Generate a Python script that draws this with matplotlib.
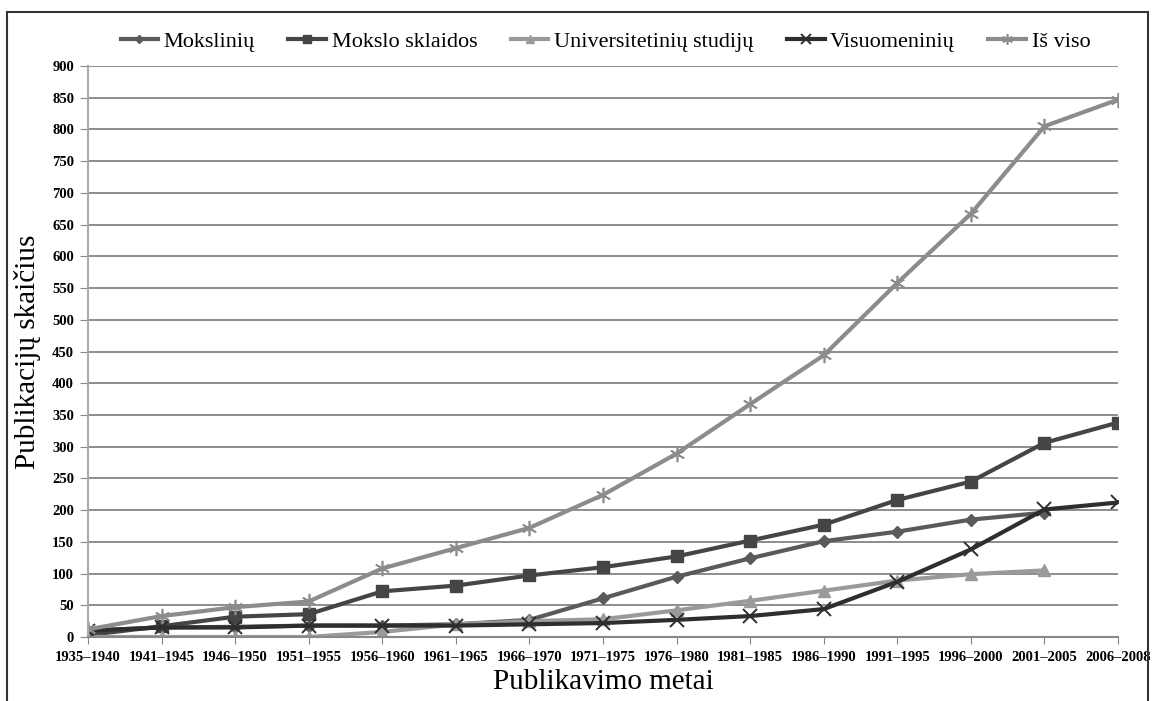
import matplotlib
matplotlib.use("Agg")
import matplotlib.pyplot as plt
from matplotlib.patches import Rectangle
import numpy as np

categories = ["1935–1940", "1941–1945", "1946–1950", "1951–1955", "1956–1960",
              "1961–1965", "1966–1970", "1971–1975", "1976–1980", "1981–1985",
              "1986–1990", "1991–1995", "1996–2000", "2001–2005", "2006–2008"]

mokslinii = [10, 15, 16, 18, 18, 20, 27, 61, 95, 124, 151, 166, 185, 196, None]
mokslo_sklaidos = [3, 17, 32, 36, 72, 81, 97, 110, 127, 152, 177, 216, 245, 306, 338]
universitetiniu = [0, 0, 0, 0, 8, 20, 25, 28, 42, 57, 73, 89, 99, 105, None]
visuomeniniu = [10, 15, 15, 18, 18, 18, 20, 22, 27, 33, 44, 87, 138, 201, 212]
is_viso = [12, 33, 47, 56, 108, 140, 172, 224, 289, 367, 444, 558, 667, 805, 847]

yticks = list(range(0, 901, 50))

def arr(v):
    return np.array([np.nan if x is None else x for x in v], dtype=float)

fig = plt.figure(figsize=(11.53, 7.01), dpi=100)
ax = fig.add_axes([88/1153, 1-637/701, (1118-88)/1153, (637-66)/701])

x = np.arange(len(categories))
serif = ["Liberation Serif", "DejaVu Serif"]

series = [
    ("Mokslinių", mokslinii, "#5a5a5a", "D", 6, dict()),
    ("Mokslo sklaidos", mokslo_sklaidos, "#454545", "s", 9, dict()),
    ("Universitetinių studijų", universitetiniu, "#9a9a9a", "^", 9, dict()),
    ("Visuomeninių", visuomeniniu, "#2e2e2e", "x", 10, dict(markeredgewidth=1.4)),
    ("Iš viso", is_viso, "#8c8c8c", (6, 2, 0), 11, dict(markeredgewidth=1.2)),
]
for name, vals, col, mk, ms, kw in series:
    kws = dict(color=col, lw=3, marker=mk, markersize=ms, label=name)
    if mk in ("x",) or isinstance(mk, tuple):
        kws.update(markeredgecolor=col, markerfacecolor="none")
    kws.update(kw)
    ax.plot(x, arr(vals), **kws)

ax.set_xlim(0, len(categories) - 1)
ax.set_ylim(0, 900)
ax.set_yticks(yticks)
ax.set_xticks(x)
ax.set_xticklabels(categories, fontfamily=serif, fontweight="bold", fontsize=10.5)
for t in ax.get_yticklabels():
    t.set_fontfamily(serif); t.set_fontweight("bold"); t.set_fontsize(10.5)
ax.grid(axis="y", color="#7a7a7a", lw=1.2)
ax.set_axisbelow(True)
for s in ["top", "right"]:
    ax.spines[s].set_visible(False)
ax.spines["left"].set_color("#aaaaaa")
ax.spines["bottom"].set_color("#888888")
ax.spines["left"].set_linewidth(1.5)
ax.spines["bottom"].set_linewidth(1.5)
ax.tick_params(axis="y", length=6, color="#888888", pad=4)
ax.tick_params(axis="x", length=5, color="#888888", pad=5)

ax.set_ylabel("Publikacijų skaičius", fontfamily=serif, fontsize=21, labelpad=8)
ax.set_xlabel("Publikavimo metai", fontfamily=serif, fontsize=21, labelpad=4)

leg = fig.legend(loc="center", bbox_to_anchor=(0.525, 1-42/701), ncol=5, frameon=False,
                 prop={"family": serif, "size": 16}, handlelength=1.7, handletextpad=0.25,
                 columnspacing=1.5, markerscale=0.7)

fig.patches.append(Rectangle((7/1153, -0.01), (1148-7)/1153, 1-12/701+0.01,
                             transform=fig.transFigure, fill=False, ec="#333333", lw=1.5))

fig.savefig("out.png", dpi=100)
